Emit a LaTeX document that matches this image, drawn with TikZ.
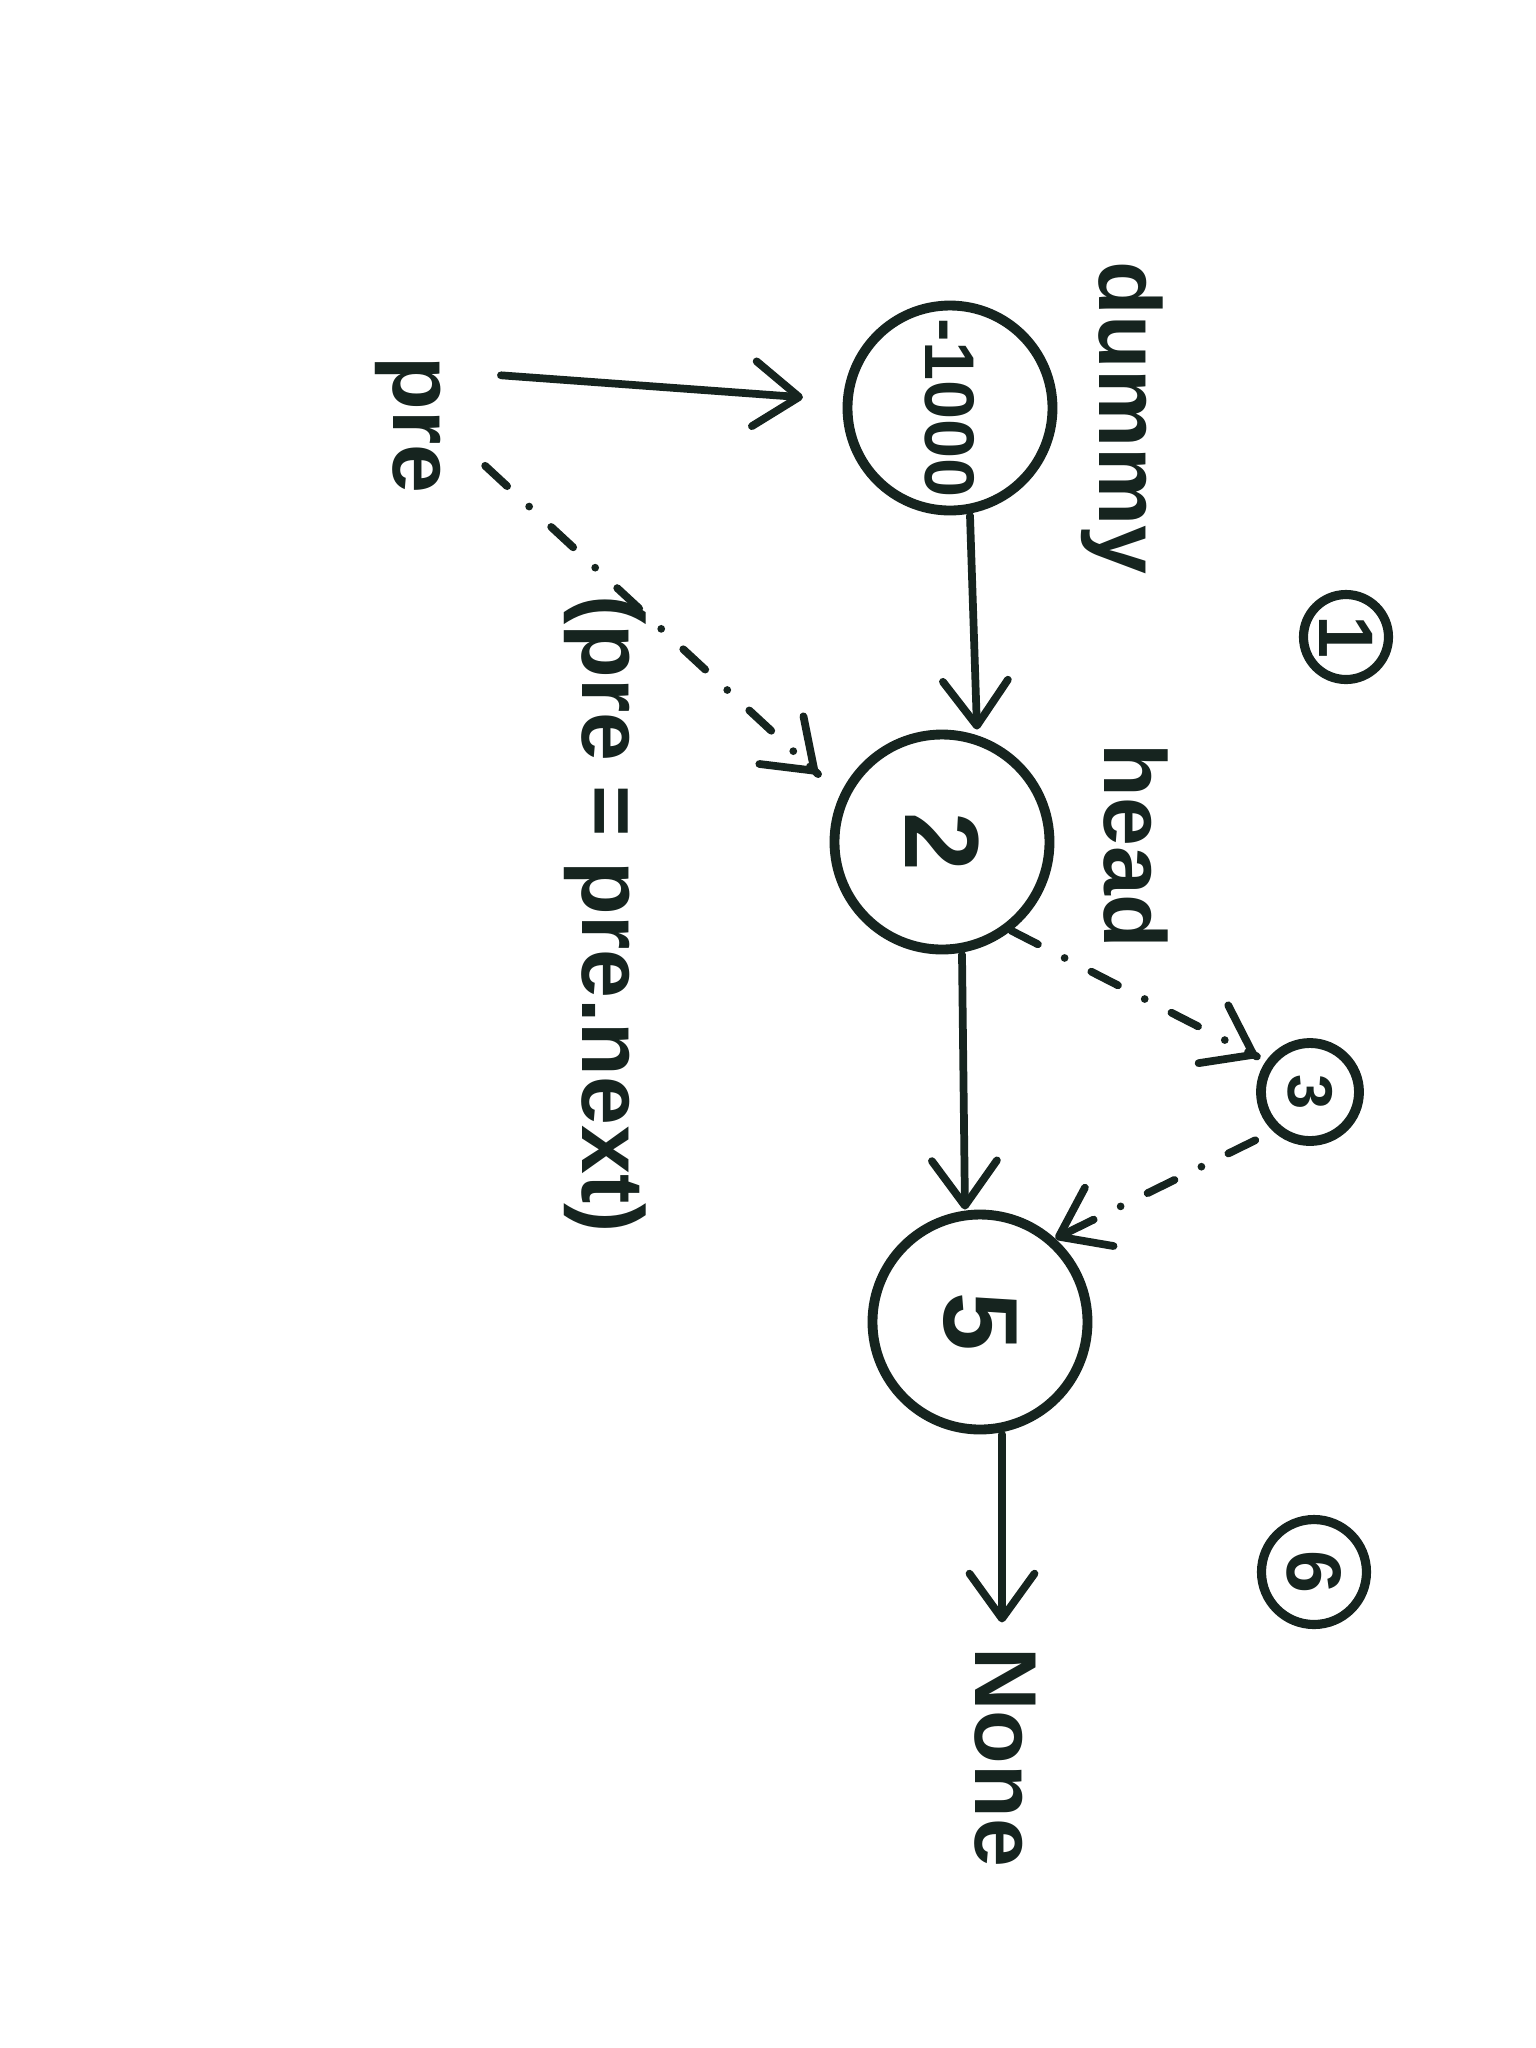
\documentclass[tikz,border=0pt]{standalone}
\usepackage{fontspec}
\setmainfont{Liberation Sans}
\usepackage{xcolor}
\usetikzlibrary{arrows.meta,positioning,calc,decorations.markings}
\definecolor{ink}{HTML}{16241F}
\tikzset{
  nd/.style={circle, draw=ink, line width=2.8pt, inner sep=0pt, text=ink},
  num/.style={circle, draw=ink, line width=2.6pt, inner sep=0pt, text=ink,
    font=\fontsize{22}{24}\selectfont\bfseries},
  barb/.tip={Straight Barb[length=4.5mm,width=6.5mm,round]},
}
\begin{document}
\begin{tikzpicture}[
  lbl/.style={rotate=-90, anchor=base, inner sep=0pt, text=ink,
              font=\fontsize{25}{28}\selectfont\bfseries},
  e/.style={-barb, line width=2.2pt, draw=ink, line cap=round},
  ed/.style={line width=2.2pt, draw=ink, line cap=round,
             dash pattern=on 3mm off 3mm on 0mm off 3mm,
             decoration={markings, mark=at position 1 with
               {\draw[e, solid] (-1mm,0) -- (0,0);}},
             postaction={decorate}},
]
\useasboundingbox (0,0) rectangle (15.36,-20.48);
\fill[white] (0,0) rectangle (15.36,-20.48);
% list nodes
\node[nd, minimum size=2.05cm, font=\fontsize{20}{22}\selectfont\bfseries] (n1000) at (9.50,-4.08)  {\rotatebox{-90}{-1000}};
\node[nd, minimum size=2.15cm, font=\fontsize{30}{32}\selectfont\bfseries] (n2)    at (9.42,-8.42)  {\rotatebox{-90}{2}};
\node[nd, minimum size=0.98cm, font=\fontsize{18}{20}\selectfont\bfseries] (n3)    at (13.10,-10.92) {\rotatebox{-90}{3}};
\node[nd, minimum size=2.15cm, font=\fontsize{30}{32}\selectfont\bfseries] (n5)    at (9.80,-13.22) {\rotatebox{-90}{5}};
% step marks
\node[num, minimum size=0.85cm] (s1) at (13.46,-6.37)  {\rotatebox{-90}{1}};
\node[num, minimum size=1.05cm] (s6) at (13.14,-15.72) {\rotatebox{-90}{6}};
% labels
\node[lbl] (pre)   at (3.93,-4.25)  {pre};
\node[lbl] (dummy) at (10.99,-4.18) {dummy};
\node[lbl] (head)  at (11.04,-8.46) {head};
\node[lbl] (none)  at (9.75,-17.57) {None};
\node[lbl] (step)  at (5.82,-9.14)  {(pre = pre.next)};
% edges
\draw[e, shorten <=6mm, shorten >=4mm] ([yshift=-1.5mm]pre.north west) -- (n1000);
\draw[ed] ($(pre.north)!6mm!(n2.155)$) -- ($(n2.155)!3mm!(pre.north)$);
\draw[e] ([xshift=2mm]n1000.south) -- ([xshift=3.5mm]n2.north);
\draw[e] ([xshift=2mm]n2.south) -- ([xshift=-1.5mm]n5.north);
\draw[ed] (n2.-52) -- ($(n3.145)!1mm!(n2.-52)$);
\draw[ed] ($(n3.227)!2mm!(n5.48)$) -- (n5.48);
\draw[e, shorten >=2.4mm] ([xshift=2.2mm]n5.south) -- ([xshift=2.2mm]n5.south |- none.west);
\end{tikzpicture}
\end{document}
